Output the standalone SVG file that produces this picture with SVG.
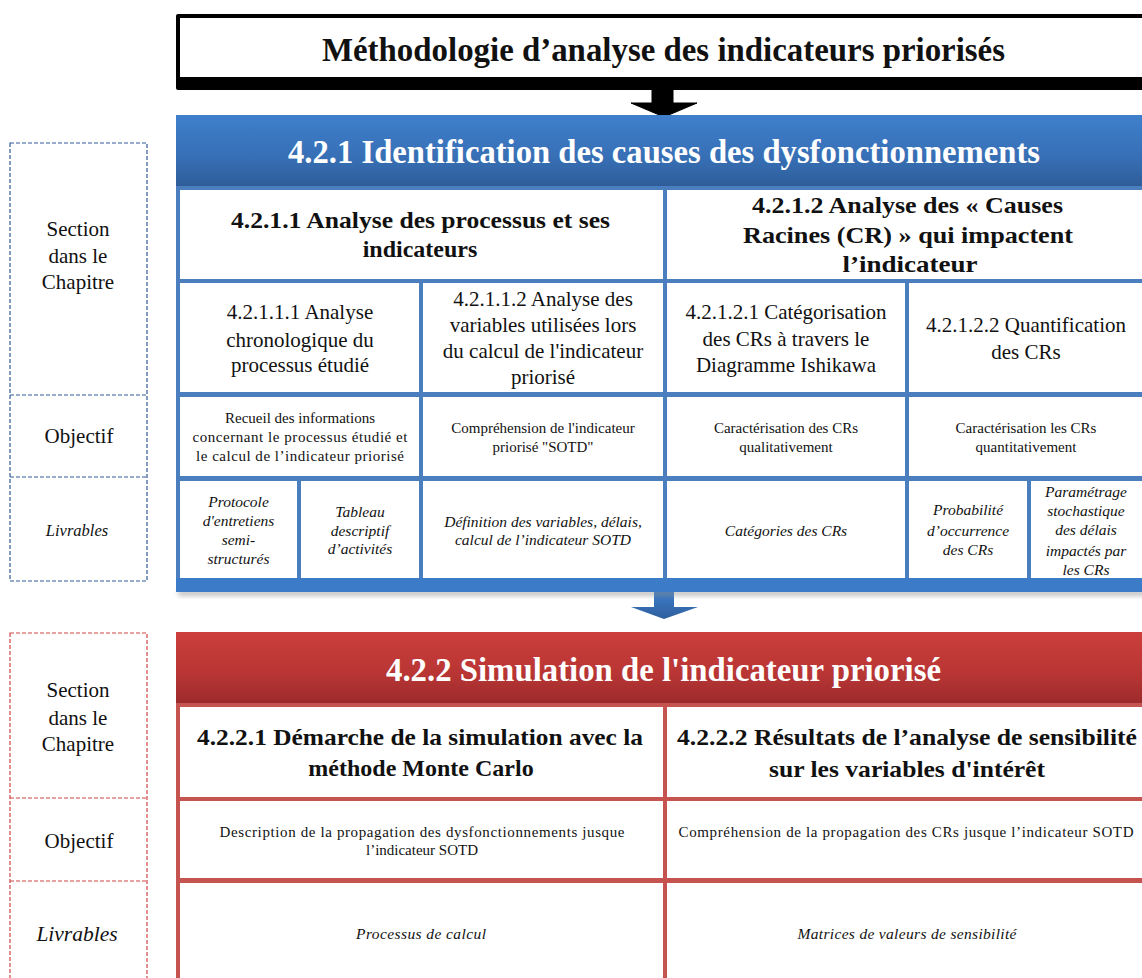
<svg xmlns="http://www.w3.org/2000/svg" width="1142" height="978" viewBox="0 0 1142 978">
<style>
text{font-family:"Liberation Serif","Times New Roman",serif;text-anchor:middle;fill:#111}
.h1{font-size:33px;font-weight:bold}
.wh{fill:#fff}
.h2{font-size:24px;font-weight:bold}
.h3{font-size:21px}
.sm{font-size:15px}
.it{font-size:15.5px;font-style:italic}
.lbl{font-size:21px}
.cell{fill:#fff}
.dashB{fill:none;stroke:#2f5a96;stroke-width:1.2;stroke-dasharray:4 2}
.dashR{fill:none;stroke:#d04545;stroke-width:1.2;stroke-dasharray:4 2}
</style>
<defs>
<linearGradient id="gB" x1="0" y1="0" x2="0" y2="1">
<stop offset="0" stop-color="#3f7fcc"/><stop offset="0.6" stop-color="#376fb5"/><stop offset="1" stop-color="#2e5d99"/>
</linearGradient>
<linearGradient id="gR" x1="0" y1="0" x2="0" y2="1">
<stop offset="0" stop-color="#cc3e3b"/><stop offset="0.6" stop-color="#b73534"/><stop offset="1" stop-color="#9c2a2c"/>
</linearGradient>
<linearGradient id="gA" x1="0" y1="0" x2="0" y2="1">
<stop offset="0" stop-color="#3e7cc8"/><stop offset="1" stop-color="#2e5f9d"/>
</linearGradient>
<filter id="sh" x="-5%" y="-50%" width="110%" height="200%"><feGaussianBlur stdDeviation="2.5"/></filter>
</defs>

<g id="legend-blue">
<rect class="dashB" x="10" y="143" width="137" height="438"/>
<line class="dashB" x1="10" y1="395" x2="147" y2="395"/>
<line class="dashB" x1="10" y1="477" x2="147" y2="477"/>
<text class="lbl" x="78" y="236">Section</text>
<text class="lbl" x="78" y="263">dans le</text>
<text class="lbl" x="78" y="289">Chapitre</text>
<text class="lbl" x="79" y="443">Objectif</text>
<text x="77" y="536" style="font-size:16.5px;font-style:italic">Livrables</text>
</g>

<g id="legend-red">
<rect class="dashR" x="10" y="633" width="137" height="360"/>
<line class="dashR" x1="10" y1="798" x2="147" y2="798"/>
<line class="dashR" x1="10" y1="881" x2="147" y2="881"/>
<text class="lbl" x="78" y="697">Section</text>
<text class="lbl" x="78" y="725">dans le</text>
<text class="lbl" x="78" y="751">Chapitre</text>
<text class="lbl" x="79" y="848">Objectif</text>
<text x="77" y="941" style="font-size:21.5px;font-style:italic">Livrables</text>
</g>

<g id="title">
<rect x="176" y="14" width="980" height="76" rx="2" fill="#000"/>
<rect x="180" y="18" width="970" height="59" fill="#fff"/>
<text class="h1" x="663.5" y="61" textLength="683" lengthAdjust="spacingAndGlyphs">Méthodologie d’analyse des indicateurs priorisés</text>
</g>

<g id="connectors">
<polygon points="652,89 673,89 673,103 697,103 664,117 631,103 652,103" fill="#000" stroke="#000" stroke-width="1" stroke-linejoin="round"/>
<polygon points="654,592 674,592 674,607 698,607 664,619 631,607 654,607" fill="url(#gA)"/>
</g>

<g id="section-421">
<rect x="178" y="590" width="970" height="6" fill="#888" opacity="0.5" filter="url(#sh)"/>
<rect x="176" y="115" width="972" height="71" fill="url(#gB)"/>
<rect x="176" y="186" width="972" height="392" fill="#4a7ebf"/>
<rect x="176" y="578" width="972" height="14" fill="#3c7bc8"/>
<text class="h1 wh" x="664" y="163" textLength="752" lengthAdjust="spacingAndGlyphs">4.2.1 Identification des causes des dysfonctionnements</text>
</g>

<g id="cell-4211">
<rect class="cell" x="180" y="190" width="483" height="89"/>
<text class="h2" x="420.5" y="228" textLength="379" lengthAdjust="spacingAndGlyphs">4.2.1.1 Analyse des processus et ses</text>
<text class="h2" x="420" y="257">indicateurs</text>
</g>
<g id="cell-4212">
<rect class="cell" x="667" y="190" width="480" height="89"/>
<text class="h2" x="907.5" y="213" textLength="311" lengthAdjust="spacingAndGlyphs">4.2.1.2 Analyse des « Causes</text>
<text class="h2" x="908" y="243" textLength="330" lengthAdjust="spacingAndGlyphs">Racines  (CR) » qui impactent</text>
<text class="h2" x="910" y="272" textLength="135" lengthAdjust="spacingAndGlyphs">l’indicateur</text>
</g>

<g id="cell-42111">
<rect class="cell" x="180" y="283" width="239" height="109"/>
<text class="h3" x="300" y="319">4.2.1.1.1  Analyse</text>
<text class="h3" x="300" y="347">chronologique  du</text>
<text class="h3" x="300" y="372">processus  étudié</text>
</g>
<g id="cell-42112">
<rect class="cell" x="423" y="283" width="240" height="109"/>
<text class="h3" x="543" y="306">4.2.1.1.2 Analyse  des</text>
<text class="h3" x="543" y="332">variables  utilisées  lors</text>
<text class="h3" x="543" y="358">du calcul  de  l'indicateur</text>
<text class="h3" x="543" y="384">priorisé</text>
</g>
<g id="cell-42121">
<rect class="cell" x="667" y="283" width="238" height="109"/>
<text class="h3" x="786" y="319">4.2.1.2.1 Catégorisation</text>
<text class="h3" x="786" y="346">des CRs à travers  le</text>
<text class="h3" x="786" y="372">Diagramme  Ishikawa</text>
</g>
<g id="cell-42122">
<rect class="cell" x="909" y="283" width="240" height="109"/>
<text class="h3" x="1026" y="332">4.2.1.2.2 Quantification</text>
<text class="h3" x="1026" y="359">des CRs</text>
</g>

<g id="obj-42111">
<rect class="cell" x="180" y="397" width="239" height="79"/>
<text class="sm" x="300" y="423">Recueil  des  informations</text>
<text class="sm" x="300" y="442" textLength="215">concernant  le processus étudié et</text>
<text class="sm" x="300" y="461" textLength="208">le  calcul  de  l’indicateur  priorisé</text>
</g>
<g id="obj-42112">
<rect class="cell" x="423" y="397" width="240" height="79"/>
<text class="sm" x="543" y="433">Compréhension de l'indicateur</text>
<text class="sm" x="543" y="452">priorisé "SOTD"</text>
</g>
<g id="obj-42121">
<rect class="cell" x="667" y="397" width="238" height="79"/>
<text class="sm" x="786" y="433">Caractérisation  des CRs</text>
<text class="sm" x="786" y="452">qualitativement</text>
</g>
<g id="obj-42122">
<rect class="cell" x="909" y="397" width="240" height="79"/>
<text class="sm" x="1026" y="433">Caractérisation les CRs</text>
<text class="sm" x="1026" y="452">quantitativement</text>
</g>

<g id="liv-protocole">
<rect class="cell" x="180" y="481" width="117" height="97"/>
<text class="it" x="238.5" y="507">Protocole</text>
<text class="it" x="238.5" y="526">d'entretiens</text>
<text class="it" x="238.5" y="545">semi-</text>
<text class="it" x="238.5" y="564">structurés</text>
</g>
<g id="liv-tableau">
<rect class="cell" x="301" y="481" width="118" height="97"/>
<text class="it" x="360" y="517">Tableau</text>
<text class="it" x="360" y="536">descriptif</text>
<text class="it" x="360" y="554">d’activités</text>
</g>
<g id="liv-definition">
<rect class="cell" x="423" y="481" width="240" height="97"/>
<text class="it" x="543" y="527">Définition  des variables, délais,</text>
<text class="it" x="543" y="545">calcul de l’indicateur  SOTD</text>
</g>
<g id="liv-categories">
<rect class="cell" x="667" y="481" width="238" height="97"/>
<text class="it" x="786" y="536">Catégories des CRs</text>
</g>
<g id="liv-probabilite">
<rect class="cell" x="909" y="481" width="118" height="97"/>
<text class="it" x="968" y="515">Probabilité</text>
<text class="it" x="968" y="536">d’occurrence</text>
<text class="it" x="968" y="555">des CRs</text>
</g>
<g id="liv-parametrage">
<rect class="cell" x="1031" y="481" width="120" height="97"/>
<text class="it" x="1086" y="497">Paramétrage</text>
<text class="it" x="1086" y="516">stochastique</text>
<text class="it" x="1086" y="535">des  délais</text>
<text class="it" x="1086" y="556">impactés par</text>
<text class="it" x="1086" y="575">les CRs</text>
</g>

<g id="section-422">
<rect x="176" y="632" width="972" height="72" fill="url(#gR)"/>
<rect x="176" y="703" width="972" height="285" fill="#c55451"/>
<text class="h1 wh" x="663.5" y="681" textLength="555" lengthAdjust="spacingAndGlyphs">4.2.2 Simulation de l'indicateur priorisé</text>
</g>

<g id="cell-4221">
<rect class="cell" x="180" y="707" width="483" height="90"/>
<text class="h2" x="420" y="745" textLength="446" lengthAdjust="spacingAndGlyphs">4.2.2.1 Démarche de la simulation avec la</text>
<text class="h2" x="421" y="776">méthode Monte Carlo</text>
</g>
<g id="cell-4222">
<rect class="cell" x="667" y="707" width="480" height="90"/>
<text class="h2" x="907" y="745" textLength="460" lengthAdjust="spacingAndGlyphs">4.2.2.2 Résultats de l’analyse de sensibilité</text>
<text class="h2" x="907" y="777" textLength="276" lengthAdjust="spacingAndGlyphs">sur les variables d'intérêt</text>
</g>
<g id="obj-4221">
<rect class="cell" x="180" y="801" width="483" height="77"/>
<text class="sm" x="422" y="837" textLength="405">Description de la propagation des dysfonctionnements jusque</text>
<text class="sm" x="422" y="855">l’indicateur  SOTD</text>
</g>
<g id="obj-4222">
<rect class="cell" x="667" y="801" width="480" height="77"/>
<text class="sm" x="906" y="837" textLength="455">Compréhension de la propagation des CRs jusque l’indicateur  SOTD</text>
</g>
<g id="liv-4221">
<rect class="cell" x="180" y="883" width="483" height="105"/>
<text class="it" x="421" y="939" textLength="130">Processus de calcul</text>
</g>
<g id="liv-4222">
<rect class="cell" x="667" y="883" width="480" height="105"/>
<text class="it" x="907" y="939" textLength="219">Matrices de valeurs de sensibilité</text>
</g>
</svg>
